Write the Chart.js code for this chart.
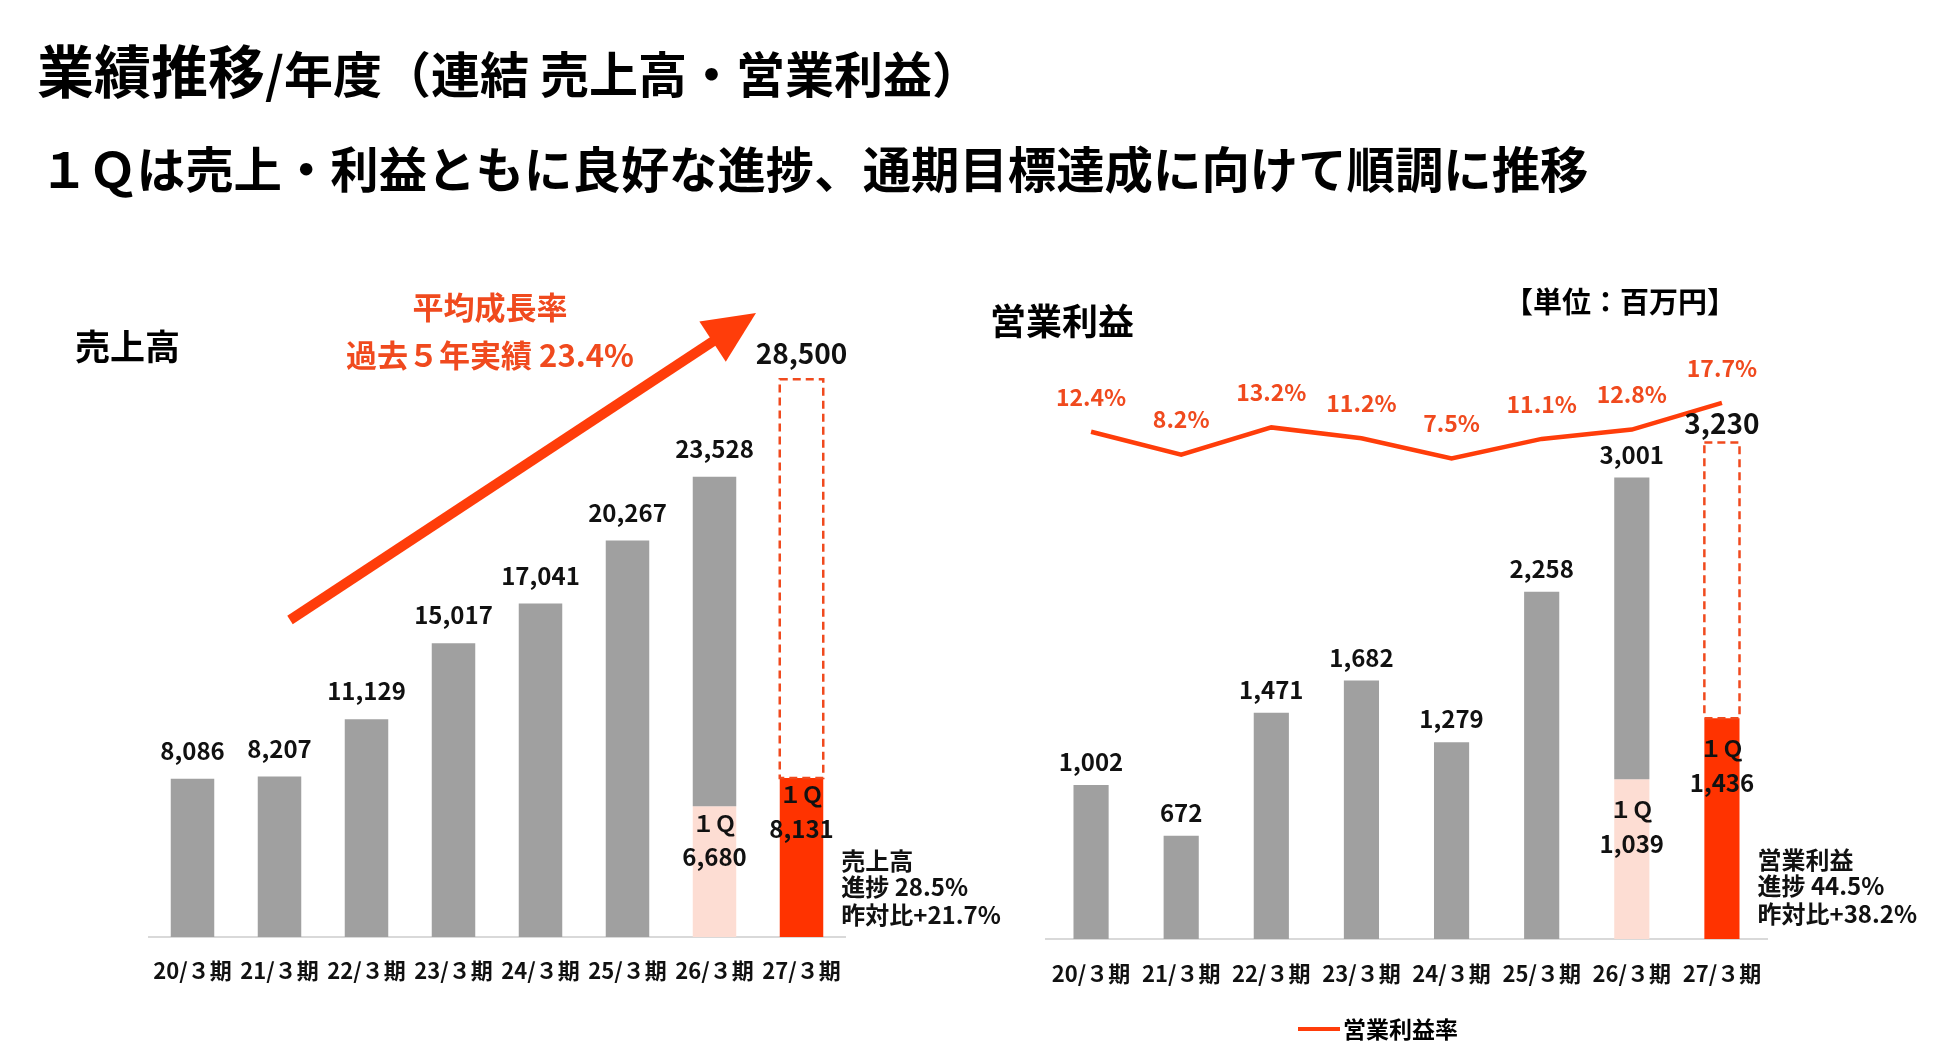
<!DOCTYPE html>
<html lang="ja">
<head>
<meta charset="utf-8">
<script src="https://cdn.jsdelivr.net/npm/chart.js@4.4.1/dist/chart.umd.min.js"></script>
<style>
  html, body { margin: 0; padding: 0; background: #fff; }
  #page { position: relative; width: 1950px; height: 1064px; overflow: hidden; background: #fff;
          font-family: "Noto Sans CJK JP", "Noto Sans", sans-serif; color: #000; }
  canvas { position: absolute; left: 0; top: 0; }
  .t { position: absolute; white-space: nowrap; font-weight: bold; line-height: 1; }
</style>
</head>
<body>
<div id="page">
  <canvas id="salesChart" width="1950" height="1064"></canvas>
  <canvas id="profitChart" width="1950" height="1064"></canvas>
  <div class="t" style="left:37px; top:40px;"><span style="font-size:57px;">業績推移</span><span style="font-size:49px;">/年度（連結 売上高・営業利益）</span></div>
  <div class="t" style="left:40px; top:143px; font-size:48.4px;">１Ｑは売上・利益ともに良好な進捗、通期目標達成に向けて順調に推移</div>
  <div class="t" style="left:75px; top:327px; font-size:35px;">売上高</div>
  <div class="t" style="left:990px; top:301px; font-size:36px;">営業利益</div>
  <div class="t" style="left:1504px; top:286px; font-size:29px;">【単位：百万円】</div>
  <div class="t" style="left:490px; top:290px; font-size:31px; color:#F04A1E; transform:translateX(-50%);">平均成長率</div>
  <div class="t" style="left:490px; top:338px; font-size:31px; color:#F04A1E; transform:translateX(-50%);">過去５年実績 23.4%</div>
  <div style="position:absolute; left:1298px; top:1027px; width:42px; height:4px; background:#FF3D0A;"></div>
  <div class="t" style="left:1343px; top:1017px; font-size:23px;">営業利益率</div>
</div>
<script>
// ---- data ----
const categories = ['20/３期', '21/３期', '22/３期', '23/３期', '24/３期', '25/３期', '26/３期', '27/３期'];
const salesTotal = [8086, 8207, 11129, 15017, 17041, 20267, 23528, 28500];
const salesQ1 = [null, null, null, null, null, null, 6680, 8131];
const profitTotal = [1002, 672, 1471, 1682, 1279, 2258, 3001, 3230];
const profitQ1 = [null, null, null, null, null, null, 1039, 1436];
const marginPct = [12.4, 8.2, 13.2, 11.2, 7.5, 11.1, 12.8, 17.7];
const salesNote = ['売上高', '進捗 28.5%', '昨対比+21.7%'];
const profitNote = ['営業利益', '進捗 44.5%', '昨対比+38.2%'];

const GRAY = '#A0A0A0', PINK = '#FDDDD3', RED = '#FF3300', LINE_RED = '#FF3D0A', TXT_RED = '#F04A1E';
const FONT = '"Noto Sans CJK JP", "Noto Sans", sans-serif';
const fmt = v => v.toLocaleString('en-US');

function q1Colors(arr) { return arr.map((v, i) => i === arr.length - 1 ? RED : PINK); }

function makeLabelPlugin(cfg) {
  return {
    id: 'labels_' + cfg.id,
    afterDatasetsDraw(chart) {
      const ctx = chart.ctx;
      const restMeta = chart.getDatasetMeta(0);
      const q1Meta = chart.getDatasetMeta(1);
      const last = cfg.total.length - 1;
      ctx.save();
      // dashed target outline for the last period
      const el = restMeta.data[last];
      const w = el.width;
      ctx.strokeStyle = TXT_RED; ctx.lineWidth = 2.5; ctx.setLineDash([8, 5]);
      ctx.strokeRect(el.x - w / 2, el.y, w, el.base - el.y);
      ctx.setLineDash([]);
      // value labels
      ctx.fillStyle = '#111'; ctx.textAlign = 'center'; ctx.textBaseline = 'middle';
      cfg.total.forEach((v, i) => {
        const e = restMeta.data[i];
        const big = i === last;
        ctx.font = 'bold ' + (big ? cfg.bigSize : cfg.size) + 'px ' + FONT;
        ctx.fillText(fmt(v), e.x, e.y - (big ? cfg.bigGap : cfg.gap));
      });
      // 1Q labels
      cfg.q1.forEach((v, i) => {
        if (v == null) return;
        const e = q1Meta.data[i];
        ctx.font = 'bold 22px ' + FONT;
        ctx.fillText('１Ｑ', e.x, e.y + cfg.q1Off[0]);
        ctx.font = 'bold ' + cfg.size + 'px ' + FONT;
        ctx.fillText(fmt(v), e.x, e.y + cfg.q1Off[1]);
      });
      // side note
      const le = q1Meta.data[last];
      const ybase = chart.scales.y.getPixelForValue(0);
      ctx.textAlign = 'left';
      ctx.font = 'bold 24px ' + FONT;
      cfg.note.forEach((t, k) => {
        ctx.fillText(t, le.x + le.width / 2 + 18, ybase - cfg.noteOff[k]);
      });
      // line labels
      if (cfg.lineIdx != null) {
        const lm = chart.getDatasetMeta(cfg.lineIdx);
        ctx.textAlign = 'center'; ctx.fillStyle = TXT_RED;
        ctx.font = 'bold 23px ' + FONT;
        marginPct.forEach((v, i) => {
          const p = lm.data[i];
          ctx.fillText(v.toFixed(1) + '%', p.x, p.y - 35);
        });
      }
      // arrow
      if (cfg.arrow) {
        const [x1, y1, x2, y2] = cfg.arrow;
        const ang = Math.atan2(y2 - y1, x2 - x1);
        const hl = 52, hw = 24;
        const bx = x2 - hl * Math.cos(ang), by = y2 - hl * Math.sin(ang);
        ctx.strokeStyle = LINE_RED; ctx.fillStyle = LINE_RED; ctx.lineWidth = 10; ctx.lineCap = 'butt';
        ctx.beginPath(); ctx.moveTo(x1, y1); ctx.lineTo(bx + 2 * Math.cos(ang), by + 2 * Math.sin(ang)); ctx.stroke();
        ctx.beginPath();
        ctx.moveTo(x2, y2);
        ctx.lineTo(bx + hw * Math.sin(ang), by - hw * Math.cos(ang));
        ctx.lineTo(bx - hw * Math.sin(ang), by + hw * Math.cos(ang));
        ctx.closePath(); ctx.fill();
      }
      ctx.restore();
    }
  };
}

function xAxis(pad) {
  return {
    type: 'category',
    grid: { display: false, drawTicks: false },
    border: { display: true, color: '#D9D9D9', width: 2 },
    ticks: { color: '#111', padding: pad, font: { family: FONT, size: 22, weight: 'bold' }, maxRotation: 0, autoSkip: false }
  };
}

Chart.defaults.font.family = FONT;

// ---- sales chart ----
new Chart(document.getElementById('salesChart'), {
  type: 'bar',
  data: {
    labels: categories,
    datasets: [
      {
        label: '売上高',
        data: salesTotal.map((v, i) => [salesQ1[i] ?? 0, v]),
        backgroundColor: salesTotal.map((v, i) => i === salesTotal.length - 1 ? 'rgba(0,0,0,0)' : GRAY),
        grouped: false, barPercentage: 0.5, categoryPercentage: 1
      },
      {
        label: '1Q',
        data: salesQ1.map(v => v == null ? null : [0, v]),
        backgroundColor: q1Colors(salesQ1),
        grouped: false, barPercentage: 0.5, categoryPercentage: 1
      }
    ]
  },
  options: {
    responsive: false, animation: false, events: [],
    layout: { padding: { left: 149, right: 1105, top: 350, bottom: 60.6 } },
    plugins: { legend: { display: false }, tooltip: { enabled: false } },
    scales: {
      x: xAxis(20),
      y: { display: false, min: 0, max: 30000 }
    }
  },
  plugins: [makeLabelPlugin({
    id: 's', total: salesTotal, q1: salesQ1, size: 24, bigSize: 28, gap: 28, bigGap: 26,
    q1Off: [17, 51], note: salesNote, noteOff: [76, 50, 22], arrow: [290, 620, 756, 313]
  })]
});

// ---- profit chart ----
new Chart(document.getElementById('profitChart'), {
  type: 'bar',
  data: {
    labels: categories,
    datasets: [
      {
        label: '営業利益',
        data: profitTotal.map((v, i) => [profitQ1[i] ?? 0, v]),
        backgroundColor: profitTotal.map((v, i) => i === profitTotal.length - 1 ? 'rgba(0,0,0,0)' : GRAY),
        grouped: false, barPercentage: 0.39, categoryPercentage: 1, yAxisID: 'y'
      },
      {
        label: '1Q',
        data: profitQ1.map(v => v == null ? null : [0, v]),
        backgroundColor: q1Colors(profitQ1),
        grouped: false, barPercentage: 0.39, categoryPercentage: 1, yAxisID: 'y'
      },
      {
        type: 'line', label: '営業利益率', data: marginPct, yAxisID: 'y2',
        borderColor: LINE_RED, borderWidth: 4.5, pointRadius: 0, tension: 0, order: -1
      }
    ]
  },
  options: {
    responsive: false, animation: false, events: [],
    layout: { padding: { left: 1046, right: 183, top: 324, bottom: 56.6 } },
    plugins: { legend: { display: false }, tooltip: { enabled: false } },
    scales: {
      x: xAxis(21),
      y: { display: false, min: 0, max: 4000 },
      y2: { display: false, min: -80.4, max: 32.12 }
    }
  },
  plugins: [makeLabelPlugin({
    id: 'p', total: profitTotal, q1: profitQ1, size: 24, bigSize: 28, gap: 23, bigGap: 19,
    q1Off: [30, 65], note: profitNote, noteOff: [79, 53, 25], lineIdx: 2
  })]
});
</script>
</body>
</html>
